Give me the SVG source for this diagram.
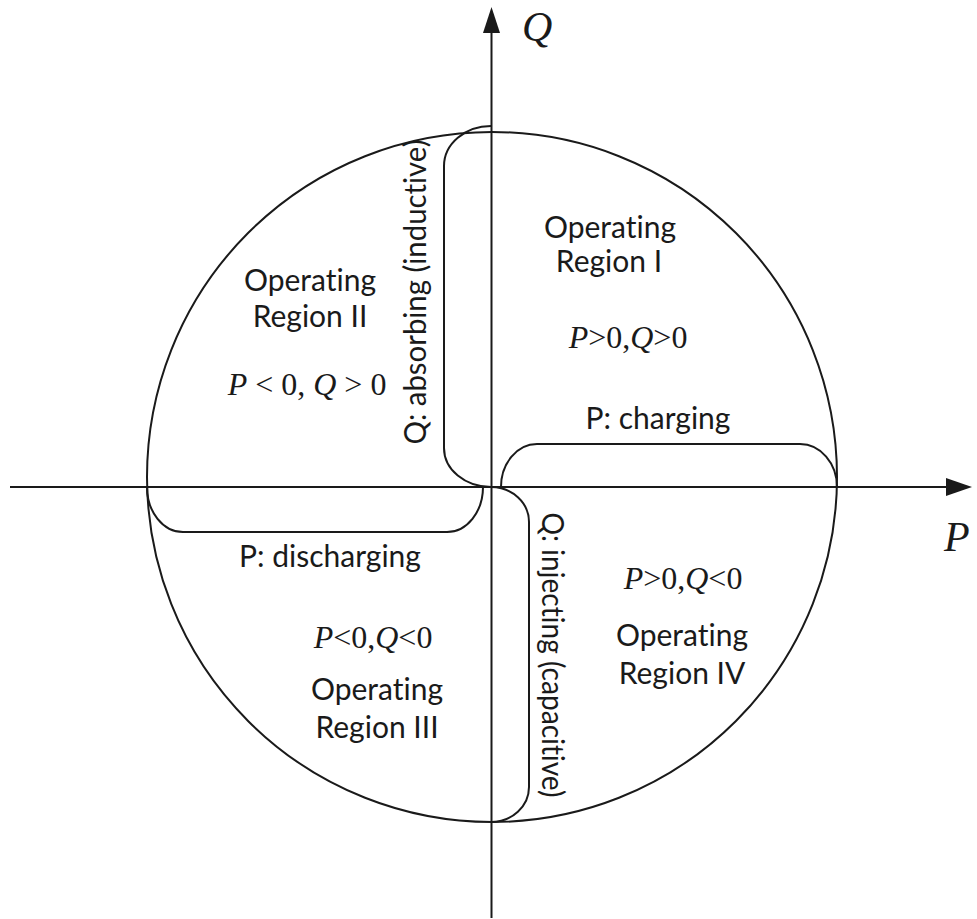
<svg xmlns="http://www.w3.org/2000/svg" width="977" height="919" viewBox="0 0 977 919">
<style>
.ln{fill:none;stroke:#1a1a1a;stroke-width:2}
.ah{fill:#1a1a1a;stroke:none}
.lb{font-family:Lato,"Open Sans","Liberation Sans",sans-serif;font-size:30px;fill:#1a1a1a;text-anchor:middle;font-variant-ligatures:none}
.mt{font-family:"Liberation Serif","Times New Roman",serif;font-size:32px;fill:#1a1a1a;text-anchor:middle}
.ax{font-family:"Liberation Serif","Times New Roman",serif;font-size:42px;font-style:italic;fill:#1a1a1a}
.it{font-style:italic}
</style>
<rect width="977" height="919" fill="#ffffff"/>
<g id="axes">
<line class="ln" x1="10" y1="487" x2="948" y2="487"/>
<polygon class="ah" points="972,487 946,478 946,496"/>
<line class="ln" x1="491.5" y1="918" x2="491.5" y2="32"/>
<polygon class="ah" points="491.5,7 483,33 500,33"/>
<text class="ax" x="522" y="41">Q</text>
<text class="ax" x="944" y="551">P</text>
</g>
<g id="circle">
<circle class="ln" cx="492" cy="477" r="345"/>
</g>
<g id="connectors">
<path id="bracket-absorbing" class="ln" d="M491,126 A47,40 0 0 0 444,166 L444,448 A47,39 0 0 0 491,487"/>
<path id="bracket-injecting" class="ln" d="M491,487 A38,35 0 0 1 529,522 L529,787 A38,35 0 0 1 491,822"/>
<path id="bracket-charging" class="ln" d="M501,487 A36,43 0 0 1 537,444 L800,444 A37,43 0 0 1 837,487"/>
<path id="bracket-discharging" class="ln" d="M147,487 A36,45 0 0 0 183,532 L447,532 A36,45 0 0 0 483,487"/>
</g>
<g id="region-1">
<text class="lb" x="610" y="238">Operating</text>
<text class="lb" x="609" y="272">Region I</text>
<text class="mt" x="628" y="348"><tspan class="it">P</tspan>&gt;0,<tspan class="it">Q</tspan>&gt;0</text>
</g>
<g id="region-2">
<text class="lb" x="310" y="291">Operating</text>
<text class="lb" x="310" y="327">Region II</text>
<text class="mt" x="307" y="395"><tspan class="it">P</tspan> &lt; 0, <tspan class="it">Q</tspan> &gt; 0</text>
</g>
<g id="region-3">
<text class="mt" x="373" y="648"><tspan class="it">P</tspan>&lt;0,<tspan class="it">Q</tspan>&lt;0</text>
<text class="lb" x="377" y="700">Operating</text>
<text class="lb" x="377" y="738">Region III</text>
</g>
<g id="region-4">
<text class="mt" x="683" y="589"><tspan class="it">P</tspan>&gt;0,<tspan class="it">Q</tspan>&lt;0</text>
<text class="lb" x="682" y="646">Operating</text>
<text class="lb" x="682" y="684">Region IV</text>
</g>
<g id="labels">
<text class="lb" x="658" y="429">P: charging</text>
<text class="lb" x="330" y="567">P: discharging</text>
<text class="lb" transform="translate(426,292) rotate(-90)" textLength="305" lengthAdjust="spacingAndGlyphs">Q: absorbing (inductive)</text>
<text class="lb" transform="translate(542,655) rotate(90)" textLength="285" lengthAdjust="spacingAndGlyphs">Q: injecting (capacitive)</text>
</g>
</svg>
